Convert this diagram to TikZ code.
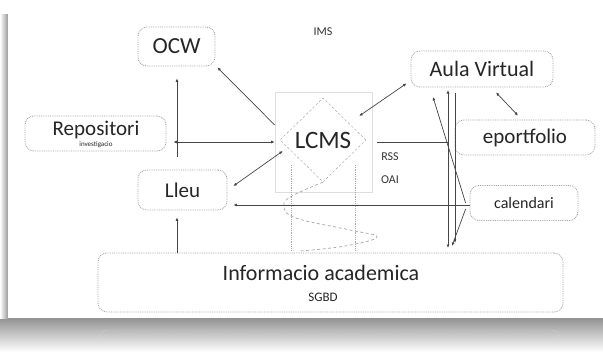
\documentclass[tikz,border=0pt]{standalone}
\usepackage{fontspec}
\setmainfont{Carlito}
\usetikzlibrary{shapes.geometric, arrows.meta, calc}

\tikzset{
  box/.style={draw=gray!75, densely dotted, line width=0.8pt, rounded corners=9pt, inner sep=0pt, text=black!85},
  link/.style={draw=gray!55!black, line width=0.7pt},
  tip/.style={-{Latex[length=3.5pt,width=3pt]}},
  tips/.style={{Latex[length=3.5pt,width=3pt]}-{Latex[length=3.5pt,width=3pt]}},
  note/.style={text=black!80, font=\fontsize{12}{13}\selectfont},
}

\begin{document}
\begin{tikzpicture}[x=1pt, y=-1pt]
  \useasboundingbox (0,0) rectangle (603,362);
  % card with its shadow and reflection
  \shade[top color=gray!85, bottom color=white] (0,318) rectangle (603,352);
  \shade[left color=white, right color=gray!80] (0,14) rectangle (8,318);
  \fill[white] (8,14) rectangle (603,318);
  \draw[gray!20, densely dotted, rounded corners=9pt] (99,362) -- (99,330) -- (560,330) -- (560,362);

  % boxes
  \node[box, minimum width=77pt, minimum height=39pt, font=\fontsize{23}{24}\selectfont] (ocw) at (176.5,46.5) {OCW};
  \node[box, minimum width=141pt, minimum height=35pt] (repo) at (95.5,133.5) {};
  \node[text=black!85, inner sep=0pt, font=\fontsize{21}{22}\selectfont] (repotxt) at (96,130) {Repositori};
  \node[text=black!85, inner sep=0pt, font=\fontsize{7}{7}\selectfont] (repusub) at (96,144.5) {investigacio};
  \node[box, minimum width=89pt, minimum height=40pt, font=\fontsize{21}{22}\selectfont] (lleu) at (182.5,190) {Lleu};
  \node[box, minimum width=142pt, minimum height=36pt, font=\fontsize{22}{23}\selectfont] (aula) at (482,69) {Aula Virtual};
  \node[box, minimum width=140pt, minimum height=35pt, font=\fontsize{21}{22}\selectfont] (eport) at (525,137.5) {eportfolio};
  \node[box, minimum width=108pt, minimum height=35pt, font=\fontsize{16}{17}\selectfont] (cal) at (524,203) {calendari};
  \node[box, minimum width=465pt, minimum height=59pt] (info) at (330.5,282.5) {};
  \node[text=black!85, inner sep=0pt, font=\fontsize{22}{23}\selectfont] (infotxt) at (321,273) {Informacio academica};
  \node[text=black!85, inner sep=0pt, font=\fontsize{13}{14}\selectfont] (sgbd) at (323,297) {SGBD};

  % LCMS block
  \node[draw=gray!25, line width=0.6pt, minimum width=97pt, minimum height=100pt] (lcmsbox) at (323.5,142) {};
  \node[draw=gray!75, dashed, dash pattern=on 2.5pt off 2pt, diamond, aspect=1, inner sep=0pt,
        minimum width=86pt, minimum height=84pt, text=black!85, font=\fontsize{25}{26}\selectfont] (lcms) at (323,140) {LCMS};
  \node[note] (ims) at (323,32) {IMS};
  \node[note] (rss) at (390,157) {RSS};
  \node[note] (oai) at (390,180) {OAI};

  \draw[gray!70, densely dotted, line width=0.8pt] (291,165) -- (291,250) (355,165) -- (355,250);
  \draw[gray!70, dash pattern=on 3pt off 2.5pt, line width=0.7pt] plot[smooth, tension=0.7]
    coordinates {(lcms.south) (292,196) (284,206) (296,218) (350,230) (377,237) (345,246) (300,251)};

  % connectors
  \coordinate (v1top) at (448,90);
  \coordinate (v1bot) at (448,248);
  \coordinate (v2top) at (455,93);
  \coordinate (v2bot) at (455,243);
  \coordinate (dtop) at (433,97);
  \coordinate (dbot) at (452,246);
  \coordinate (vleft) at (177,157);

  \draw[link, tip] ([yshift=17pt]lcmsbox.west) -- ($(ocw.south east)+(2,1)$);
  \draw[link, tip] (vleft) -- ($(ocw.south)+(0.5,12)$);
  \draw[link, tips] (lcmsbox.west) -- ($(repo.east |- lcmsbox.west)+(7,0)$);
  \draw[link, tips] ($(lleu.east)+(6,-4)$) -- ($(lcms.west)+(3,11)$);
  \draw[link, tip] (cal.west |- 0,205) -- ($(lleu.east |- 0,205)+(6,0)$);
  \draw[link, tip] (info.north -| vleft) -- ($(lleu.south -| vleft)+(0,7)$);
  \draw[link, tips] ($(lcms.east)+(-7,-24)$) -- ($(aula.south west)+(-4,-4)$);
  \draw[link, tips] ($(aula.south)+(14,5)$) -- ($(eport.north)+(-7,-4)$);
  \draw[link] ($(lcmsbox.east)+(5,0)$) -- (v1top |- lcmsbox.east);
  \draw[link, tips] (v1top) -- (v1bot);
  \draw[link, tip] (v2top) -- (v2bot);
  \draw[link, tip] ($(cal.west)+(-4,0)$) -- (dtop);
  \draw[link, tip] ($(cal.west)+(-4,6)$) -- (dbot);
\end{tikzpicture}
\end{document}
